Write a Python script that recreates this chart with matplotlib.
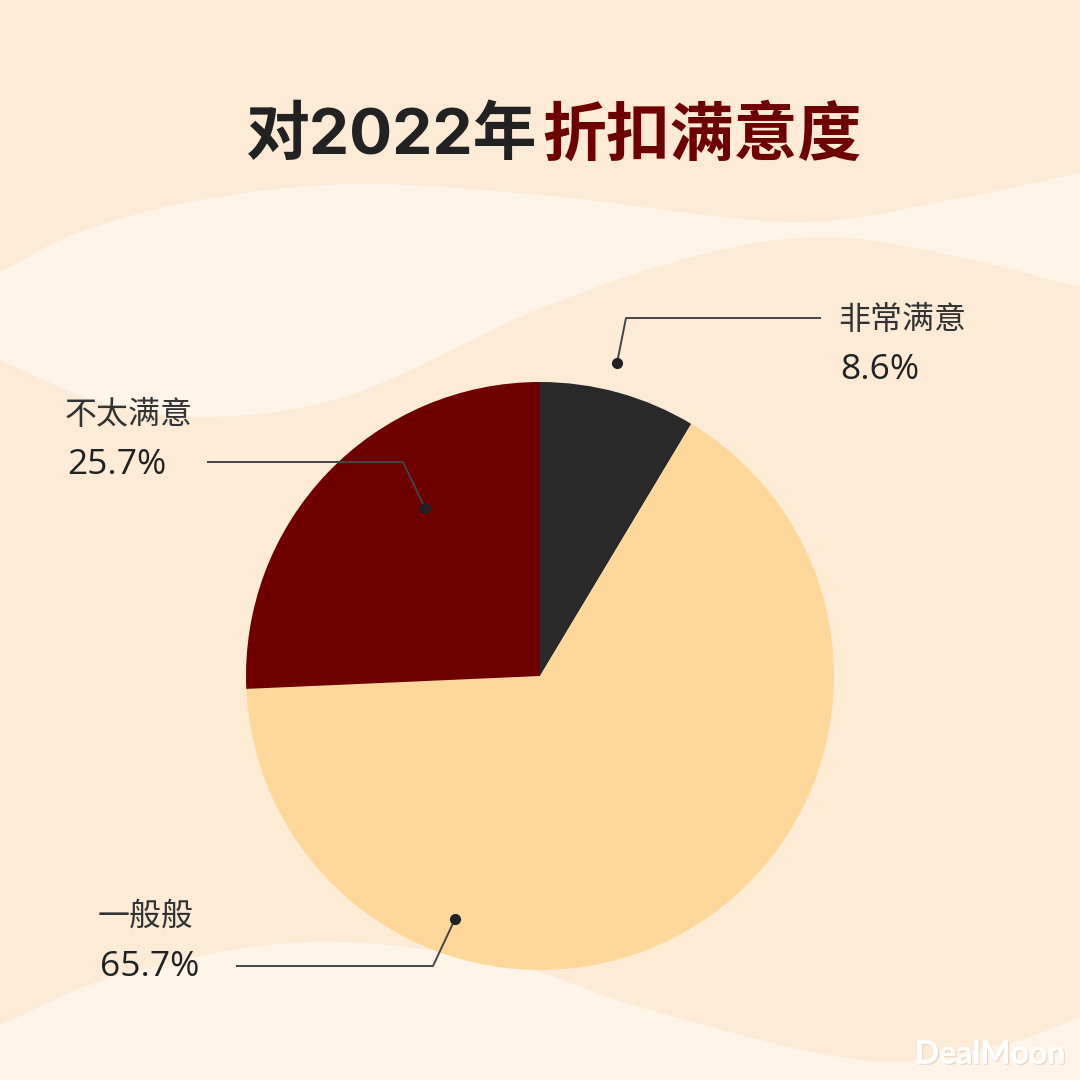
import numpy as np
import matplotlib.pyplot as plt
import matplotlib.patheffects as pe

plt.rcParams['font.family'] = ['Noto Sans CJK SC', 'DejaVu Sans']

# data
labels = ["非常满意", "一般般", "不太满意"]
shares = [8.6, 65.7, 25.7]
colors = ["#292929", "#FED89B", "#6E0000"]
title_left = "对2022年"
title_right = "折扣满意度"

BG = "#FEEBD6"
WAVE = "#FEF4E8"
H = 1080


def Y(p):
    # pixel row -> data y
    return H - p


def spline(pts, xs):
    # Catmull-Rom through the key points, sampled at xs
    p = np.array(pts, dtype=float)
    p = np.vstack([2 * p[0] - p[1], p, 2 * p[-1] - p[-2]])
    cx, cy = [], []
    for i in range(1, len(p) - 2):
        p0, p1, p2, p3 = p[i - 1], p[i], p[i + 1], p[i + 2]
        t = np.linspace(0, 1, 60)[:, None]
        c = 0.5 * ((2 * p1) + (-p0 + p2) * t
                   + (2 * p0 - 5 * p1 + 4 * p2 - p3) * t ** 2
                   + (-p0 + 3 * p1 - 3 * p2 + p3) * t ** 3)
        cx.extend(c[:, 0])
        cy.extend(c[:, 1])
    order = np.argsort(cx)
    return np.interp(xs, np.array(cx)[order], np.array(cy)[order])


fig = plt.figure(figsize=(10.8, 10.8), dpi=100, facecolor=BG)
ax = fig.add_axes([0, 0, 1, 1])

xs = np.linspace(0, H, 600)
top_up = spline([(0, 272), (80, 232), (200, 200), (358, 184), (550, 196),
                 (792, 222), (950, 200), (1080, 173)], xs)
top_lo = spline([(0, 360), (100, 402), (207, 417), (350, 395), (537, 310),
                 (700, 255), (826, 237), (950, 255), (1080, 287)], xs)
ax.fill_between(xs, Y(top_up), Y(top_lo), color=WAVE, lw=0, zorder=0)
bot = spline([(0, 1025), (120, 975), (310, 942), (500, 962), (650, 1010),
              (861, 1060), (1000, 1045), (1080, 1017)], xs)
ax.fill_between(xs, Y(bot), 0, color=WAVE, lw=0, zorder=0)

cx, cy, R = 540, Y(676), 294
ax.pie(shares, colors=colors, startangle=90, counterclock=False,
       center=(cx, cy), radius=R, frame=True,
       wedgeprops=dict(linewidth=0))
ax.set_xlim(0, H)
ax.set_ylim(0, H)
ax.set_aspect("equal")
ax.axis("off")

# title
tfam = ["Inter", "Noto Sans CJK SC"]
ax.text(537, Y(137), title_left, ha="right", va="center", fontsize=46,
        fontweight="bold", color="#222222", family=tfam)
ax.text(542, Y(137), title_right, ha="left", va="center", fontsize=46,
        fontweight="bold", color="#6E0000", family=tfam)

# leader lines: dot, elbow, end of horizontal, text position
leaders = [
    ((617, 363), (626, 318), (820, 318), (840, 320)),
    ((455, 919), (433, 966), (237, 966), (100, 917)),
    ((425, 508), (403, 462), (208, 462), (67, 415)),
]
for lab, val, (dot, elb, end, tp) in zip(labels, shares, leaders):
    ax.plot([dot[0], elb[0], end[0]], [Y(dot[1]), Y(elb[1]), Y(end[1])],
            color="#444444", lw=1.4, zorder=5)
    ax.plot(dot[0], Y(dot[1]), "o", color="#222222", ms=7, zorder=6)
    ax.text(tp[0] - 2, Y(tp[1]), lab, ha="left", va="center", fontsize=23,
            color="#333333")
    ax.text(tp[0], Y(tp[1] + 50), f"{val}%", ha="left", va="center",
            fontsize=25.5, color="#222222", family=["Open Sans", "DejaVu Sans"])

ax.text(1066, Y(1054), "DealMoon", ha="right", va="center", fontsize=23,
        fontweight="bold", color="white", family=["Lato", "DejaVu Sans"],
        path_effects=[pe.withSimplePatchShadow(offset=(1, -1),
                                               shadow_rgbFace="#d8c0a8",
                                               alpha=0.5), pe.Normal()])

fig.savefig("out.png", dpi=100, facecolor=BG)
